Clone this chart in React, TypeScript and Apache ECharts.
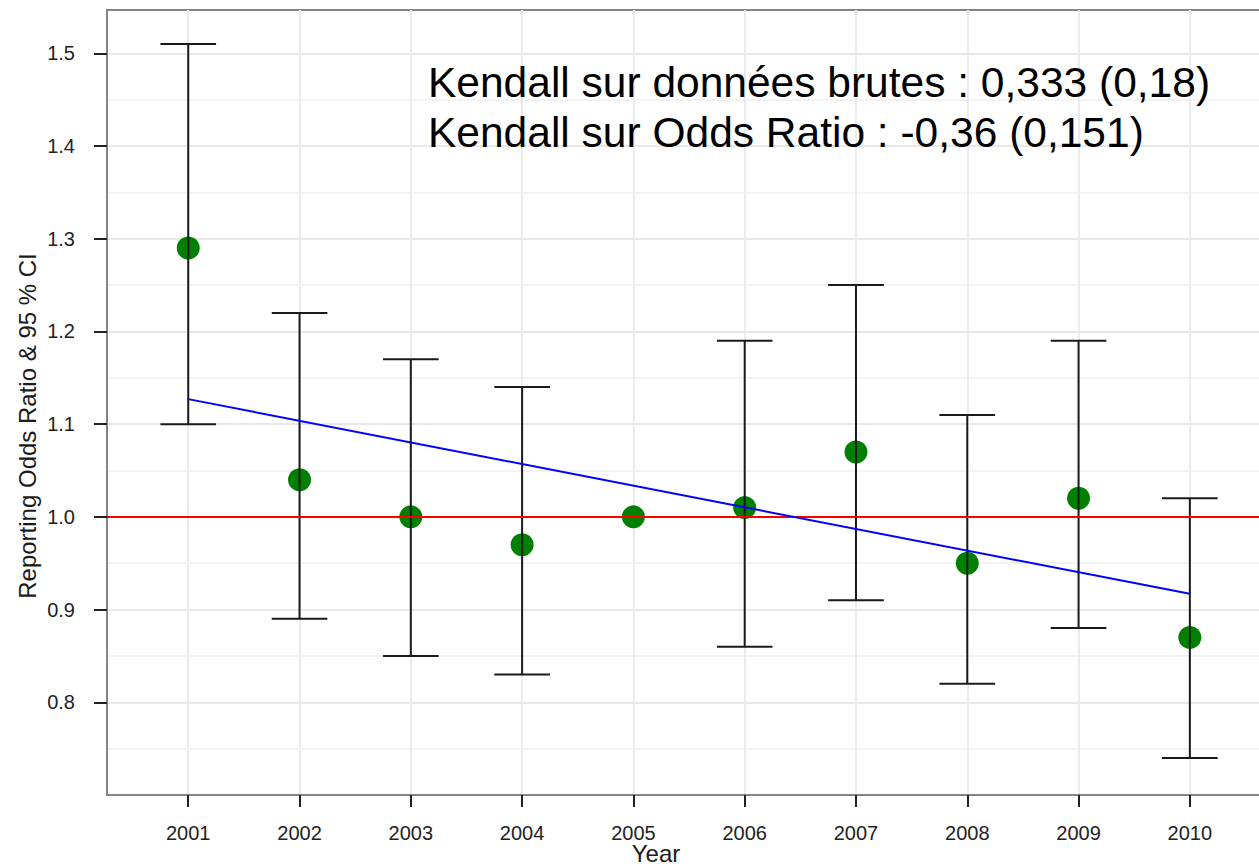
import React, { useEffect, useRef } from "react";
import * as echarts from "echarts";

const years = [2001, 2002, 2003, 2004, 2005, 2006, 2007, 2008, 2009, 2010];
const oddsRatio = [1.29, 1.04, 1.0, 0.97, 1.0, 1.01, 1.07, 0.95, 1.02, 0.87];
const ciYears = [2001, 2002, 2003, 2004, 2006, 2007, 2008, 2009, 2010];
const ciLow = [1.1, 0.89, 0.85, 0.83, 0.86, 0.91, 0.82, 0.88, 0.74];
const ciHigh = [1.51, 1.22, 1.17, 1.14, 1.19, 1.25, 1.11, 1.19, 1.02];
const trendYears = [2001, 2010];
const trendValues = [1.127, 0.917];
const referenceValue = 1.0;
const yTicks = [0.8, 0.9, 1.0, 1.1, 1.2, 1.3, 1.4, 1.5];
const annotationLines = [
  "Kendall sur données brutes : 0,333 (0,18)",
  "Kendall sur Odds Ratio : -0,36 (0,151)",
];
const yTitle = "Reporting Odds Ratio & 95 % CI";
const xTitle = "Year";

const FONT = "'Liberation Sans', Arial, sans-serif";

export default function App() {
  const ref = useRef<HTMLDivElement>(null);
  useEffect(() => {
    if (!ref.current) return;
    const chart = echarts.init(ref.current, undefined, { renderer: "svg" });
    const points = years.map((y, i) => [y, oddsRatio[i]]);
    const bars = ciYears.map((y, i) => [y, ciLow[i], ciHigh[i]]);
    const trend = trendYears.map((y, i) => [y, trendValues[i]]);
    chart.setOption({
      animation: false,
      backgroundColor: "#ffffff",
      textStyle: { fontFamily: FONT },
      grid: {
        left: 107,
        right: 30,
        top: 10,
        bottom: 69,
        show: true,
        borderColor: "#858585",
        borderWidth: 2,
        backgroundColor: "transparent",
      },
      xAxis: {
        type: "value",
        min: 2000.27,
        max: 2010.9,
        axisLine: { show: true, lineStyle: { color: "#858585", width: 2 } },
        axisTick: {
          show: true,
          length: 12,
          lineStyle: { color: "#222222", width: 2 },
          customValues: years,
        },
        axisLabel: {
          customValues: years,
          margin: 28,
          fontSize: 20,
          color: "#222222",
          fontFamily: FONT,
          formatter: (v: number) => String(Math.round(v)),
        },
        splitLine: { show: true, lineStyle: { color: "#ebebeb", width: 2 } },
      },
      yAxis: {
        type: "value",
        min: 0.7,
        max: 1.5467,
        interval: 0.1,
        axisLine: { show: true, lineStyle: { color: "#858585", width: 2 } },
        axisTick: {
          show: true,
          length: 13,
          lineStyle: { color: "#222222", width: 2 },
          customValues: yTicks,
        },
        axisLabel: {
          customValues: yTicks,
          margin: 32,
          fontSize: 20,
          color: "#222222",
          fontFamily: FONT,
          formatter: (v: number) => v.toFixed(1),
        },
        splitLine: { show: true, lineStyle: { color: "#e8e8e8", width: 2 } },
        minorTick: { show: false, splitNumber: 2 },
        minorSplitLine: { show: true, lineStyle: { color: "#f3f3f3", width: 2 } },
      },
      graphic: [
        ...annotationLines.map((t, i) => ({
          type: "text",
          left: 428,
          top: 61 + i * 50,
          style: { text: t, fontSize: 42.5, fill: "#000000", fontFamily: FONT },
          z: 100,
        })),
        {
          type: "text",
          x: 27,
          y: 426,
          rotation: Math.PI / 2,
          style: {
            text: yTitle,
            fontSize: 24,
            fill: "#1a1a1a",
            fontFamily: FONT,
            align: "center",
            verticalAlign: "middle",
          },
        },
        {
          type: "text",
          x: 656,
          y: 853,
          style: {
            text: xTitle,
            fontSize: 24,
            fill: "#1a1a1a",
            fontFamily: FONT,
            align: "center",
            verticalAlign: "middle",
          },
        },
      ],
      series: [
        {
          type: "scatter",
          data: points,
          symbol: "circle",
          symbolSize: 23,
          itemStyle: { color: "#008000", opacity: 1 },
          z: 2,
        },
        {
          type: "custom",
          data: bars,
          z: 3,
          renderItem: (params: any, api: any) => {
            const x = api.value(0);
            const lo = api.value(1);
            const hi = api.value(2);
            const pHi = api.coord([x, hi]);
            const pLo = api.coord([x, lo]);
            const half = api.size([0.25, 0])[0];
            const style = { stroke: "#1a1a1a", lineWidth: 2 };
            return {
              type: "group",
              children: [
                { type: "line", shape: { x1: pHi[0], y1: pHi[1], x2: pLo[0], y2: pLo[1] }, style },
                { type: "line", shape: { x1: pHi[0] - half, y1: pHi[1], x2: pHi[0] + half, y2: pHi[1] }, style },
                { type: "line", shape: { x1: pLo[0] - half, y1: pLo[1], x2: pLo[0] + half, y2: pLo[1] }, style },
              ],
            };
          },
        },
        {
          type: "line",
          data: trend,
          symbol: "none",
          lineStyle: { color: "#0000ff", width: 2 },
          z: 5,
          markLine: {
            silent: true,
            symbol: "none",
            label: { show: false },
            lineStyle: { color: "#ff0000", width: 2, type: "solid" },
            data: [{ yAxis: referenceValue }],
            z: 4,
          },
        },
      ],
    });
    return () => chart.dispose();
  }, []);
  return (
    <div
      style={{
        position: "fixed",
        left: 0,
        top: 0,
        width: 1259,
        height: 864,
        overflow: "hidden",
        background: "#fff",
      }}
    >
      <div ref={ref} style={{ width: 1320, height: 864 }} />
    </div>
  );
}
